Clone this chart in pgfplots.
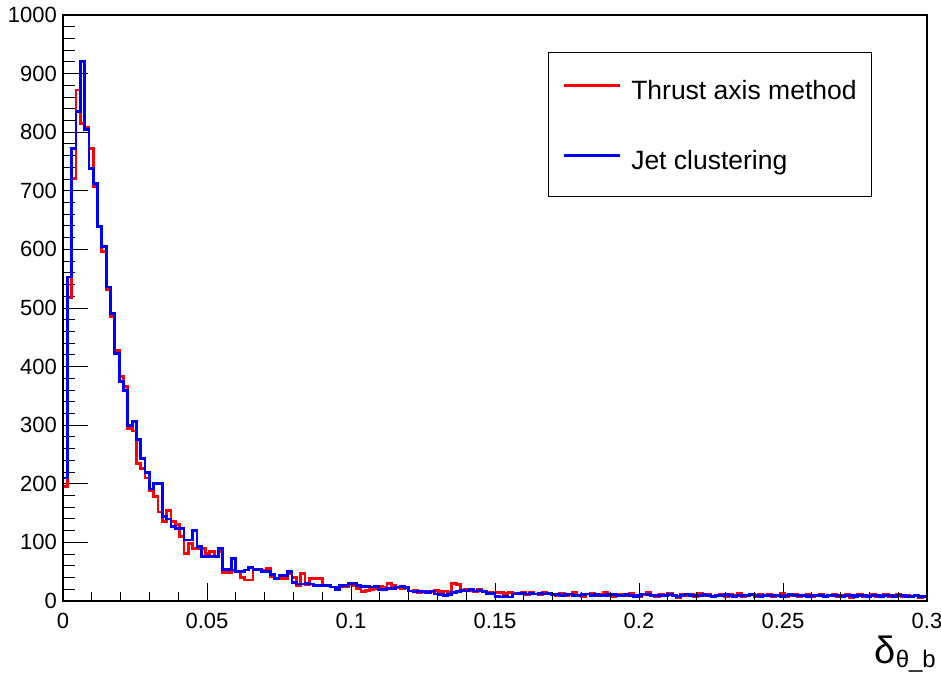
\documentclass[border=0pt]{standalone}
\usepackage{pgfplots}
\usepackage{pgfplotstable}
\pgfplotsset{compat=1.18}
\usepackage{fontspec}
\setmainfont{Liberation Sans}

\pgfplotstableread{
x B R
0.0000 210 195
0.0015 553 517
0.0030 772 721
0.0045 835 872
0.0060 920 815
0.0075 804 809
0.0090 738 772
0.0105 713 707
0.0120 639 639
0.0135 605 596
0.0150 536 531
0.0165 491 485
0.0180 423 427
0.0195 374 383
0.0210 359 366
0.0225 299 295
0.0240 306 290
0.0255 276 234
0.0270 243 226
0.0285 219 210
0.0300 191 189
0.0315 201 178
0.0330 201 152
0.0345 144 135
0.0360 140 155
0.0375 127 135
0.0390 124 130
0.0405 124 110
0.0420 104 81
0.0435 104 98
0.0450 120 90
0.0465 93 90
0.0480 76 90
0.0495 76 81
0.0510 76 85
0.0525 76 76
0.0540 90 85
0.0555 54 48
0.0570 54 48
0.0585 72 52
0.0600 50 50
0.0615 50 40
0.0630 53 36
0.0645 57 36
0.0660 54 53
0.0675 54 53
0.0690 50 53
0.0705 50 56
0.0720 45 42
0.0735 39 39
0.0750 43 39
0.0765 43 39
0.0780 50 46
0.0795 32 40
0.0810 29 27
0.0825 29 47
0.0840 30 28
0.0855 29 39
0.0870 27 39
0.0885 27 39
0.0900 27 26
0.0915 27 26
0.0930 24 24
0.0945 19 23
0.0960 26 24
0.0975 26 25
0.0990 30 28
0.1005 30 27
0.1020 26 22
0.1035 25 16
0.1050 25 18
0.1065 24 20
0.1080 25 22
0.1095 20 25
0.1110 20 24
0.1125 21 30
0.1140 22 26
0.1155 24 23
0.1170 25 22
0.1185 23 24
0.1200 17 17
0.1215 16 18
0.1230 17 15
0.1245 16 17
0.1260 15 16
0.1275 17 16
0.1290 12 18
0.1305 11 16
0.1320 10 17
0.1335 11 15
0.1350 15 30
0.1365 16 28
0.1380 18 17
0.1395 17 19
0.1410 19 18
0.1425 17 16
0.1440 18 20
0.1455 16 17
0.1470 13 14
0.1485 13 15
0.1500 8 15
0.1515 7 14
0.1530 8 13
0.1545 7 15
0.1560 12 13
0.1575 13 12
0.1590 13 14
0.1605 12 11
0.1620 13 14
0.1635 12 12
0.1650 13 11
0.1665 12 14
0.1680 13 13
0.1695 11 12
0.1710 12 10
0.1725 10 13
0.1740 11 9
0.1755 12 11
0.1770 10 14
0.1785 9 10
0.1800 11 8
0.1815 12 12
0.1830 10 13
0.1845 11 9
0.1860 9 11
0.1875 10 14
0.1890 12 10
0.1905 11 8
0.1920 9 12
0.1935 10 11
0.1950 11 9
0.1965 9 13
0.1980 8 10
0.1995 10 8
0.2010 12 11
0.2025 11 14
0.2040 9 9
0.2055 10 7
0.2070 10 12
0.2085 9 10
0.2100 11 13
0.2115 10 9
0.2130 8 6
0.2145 9 11
0.2160 12 10
0.2175 10 12
0.2190 9 8
0.2205 9 13
0.2220 11 9
0.2235 10 11
0.2250 8 7
0.2265 9 10
0.2280 10 12
0.2295 11 8
0.2310 9 11
0.2325 8 9
0.2340 10 13
0.2355 9 7
0.2370 10 10
0.2385 11 12
0.2400 9 8
0.2415 8 11
0.2430 10 9
0.2445 9 12
0.2460 10 7
0.2475 9 10
0.2490 8 13
0.2505 10 8
0.2520 11 9
0.2535 9 11
0.2550 9 7
0.2565 10 10
0.2580 8 12
0.2595 9 8
0.2610 10 9
0.2625 9 11
0.2640 8 7
0.2655 9 10
0.2670 10 12
0.2685 9 8
0.2700 8 9
0.2715 9 11
0.2730 10 6
0.2745 8 10
0.2760 9 12
0.2775 9 8
0.2790 8 9
0.2805 10 11
0.2820 9 7
0.2835 8 10
0.2850 9 12
0.2865 9 8
0.2880 8 9
0.2895 9 11
0.2910 10 7
0.2925 8 10
0.2940 8 8
0.2955 9 9
0.2970 8 6
0.2985 8 8
0.3000 8 8
}\histdata

\begin{document}
\begin{tikzpicture}
\useasboundingbox (-63pt,-72pt) rectangle (878pt,601pt);
\pgfplotsset{
  rootframe/.style={
    at={(0pt,0pt)}, anchor=south west,
    scale only axis, width=864pt, height=586pt,
    xmin=0, xmax=0.3, ymin=0, ymax=1000,
    tick align=inside, tick pos=left,
    tick style={black, line width=1pt},
    axis line style={line width=1.3pt},
    ticklabel style={font=\fontsize{22}{22}\selectfont},
    /pgf/number format/assume math mode=true,
  }
}
% axis 1: data, legend and y ticks
\begin{axis}[
  rootframe, name=main,
  xtick=\empty,
  ytick={0,100,200,300,400,500,600,700,800,900,1000},
  yticklabels={0,100,200,300,400,500,600,700,800,900,1000},
  minor y tick num=4,
  major tick length=25pt, minor tick length=12pt,
  yticklabel style={inner sep=0pt, anchor=east, xshift=-6pt},
  legend style={at={(rel axis cs:0.5613,0.9369)}, anchor=north west,
    draw=black, line width=1pt, fill=white,
    inner xsep=14pt, inner ysep=25pt, row sep=46pt,
    font=\fontsize{26.5}{26.5}\selectfont,
    nodes={inner sep=0pt, text height=22pt, text depth=2pt},
    /tikz/every odd column/.append style={column sep=10pt}},
  legend cell align=left,
  legend image code/.code={\draw[#1] (0pt,4pt) -- (56pt,4pt);},
]
\addplot[const plot, red, line width=2.8pt] table[x=x, y=R] {\histdata};
\addlegendentry{Thrust axis method\hspace*{1pt}}
\addplot[const plot, blue, line width=2.8pt] table[x=x, y=B] {\histdata};
\addlegendentry{Jet clustering}
\end{axis}
% axis 2: x ticks only
\begin{axis}[
  rootframe,
  ytick=\empty,
  xtick={0,0.05,0.1,0.15,0.2,0.25,0.3},
  xticklabels={0,0.05,0.1,0.15,0.2,0.25,0.3},
  minor x tick num=4,
  major tick length=18pt, minor tick length=9pt,
  xticklabel style={inner sep=0pt, anchor=north, yshift=-12pt},
]
\end{axis}
\node[anchor=base east, inner sep=0pt] at ([xshift=9pt, yshift=-62pt]main.south east)
  {{\fontsize{38}{38}\selectfont δ}{\fontsize{24}{24}\selectfont\raisebox{-4pt}{θ\_b}}};
\end{tikzpicture}
\end{document}
